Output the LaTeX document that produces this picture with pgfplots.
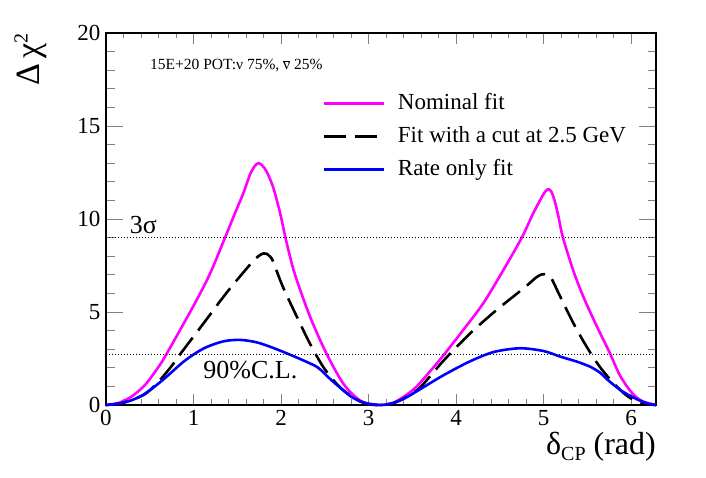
\documentclass[border=0pt]{standalone}
\usepackage{fontspec}
\setmainfont{Liberation Serif}
\usepackage{pgfplots}
\pgfplotsset{compat=1.18}
\definecolor{rmag}{RGB}{255,0,255}
\definecolor{rblue}{RGB}{0,0,255}
\begin{document}
\begin{tikzpicture}[x=1pt,y=1pt]
\path[use as bounding box] (0,0) rectangle (706,478);
\begin{axis}[
  at={(106pt,73pt)}, anchor=south west,
  scale only axis, width=550pt, height=372pt,
  xmin=0, xmax=6.2832, ymin=0, ymax=20,
  xtick={0,1,2,3,4,5,6}, ytick={0,5,10,15,20},
  minor x tick num=4, minor y tick num=4,
  tick align=inside, tick pos=both,
  major tick length=17pt, minor tick length=8.5pt,
  xtick style={/pgfplots/major tick length=11pt,/pgfplots/minor tick length=5.5pt, line width=0.9pt},
  ytick style={line width=0.9pt},
  axis line style={line width=1.2pt},
  /pgf/number format/assume math mode=true,
  ticklabel style={font=\fontsize{23}{23}\selectfont},
  xticklabel style={yshift=-2pt},
  yticklabel style={xshift=-2pt},
  xlabel={δ\raisebox{-0.35ex}{\fontsize{20}{20}\selectfont CP} (rad)},
  xlabel style={at={(rel axis cs:1,0)}, anchor=base east, yshift=-50pt, font=\fontsize{32}{32}\selectfont, inner sep=0pt},
  ylabel={Δ\,χ\raisebox{0.8ex}{\fontsize{20}{20}\selectfont 2}},
  ylabel style={at={([xshift=-66pt]rel axis cs:0,1)}, anchor=base east, rotate=0, font=\fontsize{34}{34}\selectfont, inner sep=0pt},
  legend style={at={(rel axis cs:0.393,0.839)}, anchor=north west, draw=none, fill=none, inner sep=0pt,
    font=\fontsize{23}{23}\selectfont, row sep=12pt, column sep=0pt,
    nodes={inner sep=0pt, text height=16pt, text depth=5pt},
    /tikz/every odd column/.append style={column sep=13pt}},
  legend cell align=left,
  legend image code/.code={\draw[#1] (0pt,0pt) -- (60pt,0pt);},
  clip=false,
]
\addplot[rmag, line width=2.6pt, smooth] coordinates {
(0,0) (0.15,0.12) (0.3,0.48) (0.45,1.1) (0.6,2.05) (0.674,2.6) (0.846,4.03) (1.036,5.65) (1.19,7.08) (1.36,9.0) (1.49,10.5) (1.57,11.4) (1.646,12.4) (1.70,12.85) (1.74,13.0) (1.78,12.9) (1.835,12.55) (1.91,11.7) (1.99,10.3) (2.05,9.0) (2.14,7.3) (2.255,5.7) (2.37,4.3) (2.52,2.75) (2.67,1.45) (2.77,0.8) (2.9,0.25) (3.02,0.04) (3.1416,0)
(3.28,0.12) (3.42,0.5) (3.55,1.0) (3.7,1.8) (3.855,2.67) (4.08,4.03) (4.31,5.47) (4.54,7.26) (4.75,9.0) (4.88,10.3) (5.0,11.35) (5.05,11.6) (5.09,11.45) (5.13,10.9) (5.17,10.1) (5.22,9.0) (5.34,7.2) (5.455,5.8) (5.6,4.3) (5.75,2.85) (5.87,1.6) (6.0,0.7) (6.12,0.22) (6.2832,0)
};
\addlegendentry{Nominal fit}
\addplot[black, line width=2.6pt, dash pattern=on 22pt off 9pt, smooth] coordinates {
(0,0) (0.15,0.08) (0.3,0.28) (0.45,0.6) (0.6,1.25) (0.75,2.1) (0.85,2.75) (1.1,4.3) (1.38,6.05) (1.646,7.55) (1.74,8.0) (1.80,8.15) (1.835,8.13) (1.88,7.95) (1.91,7.7) (2.02,6.36) (2.18,4.75) (2.33,3.3) (2.48,2.06) (2.63,1.16) (2.75,0.65) (2.9,0.2) (3.02,0.03) (3.1416,0)
(3.28,0.1) (3.42,0.4) (3.59,0.95) (3.855,2.38) (4.16,3.85) (4.46,5.1) (4.77,6.27) (4.92,6.88) (4.98,7.02) (5.02,7.04) (5.06,6.95) (5.09,6.8) (5.19,5.82) (5.34,4.39) (5.49,3.14) (5.64,2.06) (5.8,1.16) (5.95,0.5) (6.1,0.12) (6.2832,0)
};
\addlegendentry{Fit with a cut at 2.5 GeV}
\addplot[rblue, line width=2.6pt, smooth] coordinates {
(0,0) (0.15,0.07) (0.3,0.27) (0.45,0.62) (0.65,1.35) (0.9,2.38) (1.12,3.05) (1.34,3.42) (1.53,3.5) (1.72,3.37) (1.91,3.07) (2.14,2.63) (2.37,2.15) (2.45,1.9) (2.56,1.4) (2.67,0.95) (2.8,0.45) (2.95,0.12) (3.1416,0)
(3.28,0.1) (3.42,0.38) (3.59,0.85) (3.855,1.6) (4.16,2.35) (4.43,2.85) (4.73,3.05) (5.0,2.9) (5.19,2.6) (5.38,2.33) (5.53,2.06) (5.64,1.75) (5.72,1.4) (5.8,1.08) (5.91,0.7) (6.07,0.3) (6.2,0.06) (6.2832,0)
};
\addlegendentry{Rate only fit}
\addplot[black, line width=0.8pt, dash pattern=on 1pt off 2pt, forget plot] coordinates {(0,9) (6.2832,9)};
\addplot[black, line width=0.8pt, dash pattern=on 1pt off 2pt, forget plot] coordinates {(0,2.71) (6.2832,2.71)};
\node[anchor=base west, font=\fontsize{26}{26}\selectfont, inner sep=0pt] at (axis cs:0.27,9.2) {3σ};
\node[anchor=base west, font=\fontsize{26}{26}\selectfont, inner sep=0pt] at (axis cs:1.11,1.45) {90\%C.L.};
\node[anchor=base west, font=\fontsize{15.5}{15.5}\selectfont, inner sep=0pt] at (axis cs:0.503,18.05) {15E+20 POT:ν 75\%, $\overline{\mbox{ν}}$ 25\%};
\end{axis}
\end{tikzpicture}
\end{document}
